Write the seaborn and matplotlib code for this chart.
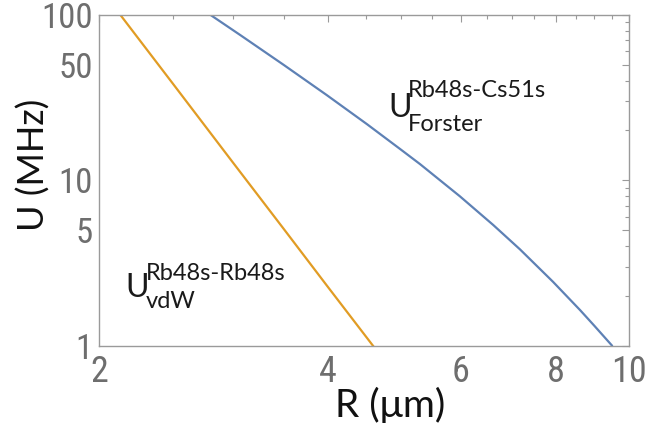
import numpy as np
import pandas as pd
import matplotlib
matplotlib.use("Agg")
import matplotlib.pyplot as plt
import seaborn as sns
from matplotlib.ticker import FixedLocator, NullFormatter

# ---- data ----
r_vdw = [2.13, 2.5, 3.0, 3.5, 4.0, 4.60]
u_vdw = [100.0, 38.3, 12.8, 5.09, 2.28, 0.99]

r_forster = [2.80, 3.07, 3.50, 3.99, 4.51, 5.00, 5.30, 5.98, 6.62, 7.18, 7.94, 8.62, 9.00, 9.50]
u_forster = [100.0, 75.2, 49.8, 32.7, 21.8, 15.3, 12.5, 8.0, 5.36, 3.82, 2.43, 1.64, 1.32, 1.0]

x_major = [2, 4, 6, 8, 10]
x_major_labels = ["2", "4", "6", "8", "10"]
x_minor = [2.5, 3, 3.5, 4.5, 5, 5.5, 6.5, 7, 7.5, 8.5, 9, 9.5]
y_major = [1, 5, 10, 50, 100]
y_major_labels = ["1", "5", "10", "50", "100"]
y_minor = [2, 3, 4, 6, 7, 8, 9, 20, 30, 40, 60, 70, 80, 90]

series_names = ["vdW", "Forster"]
palette = {"vdW": "#E19C24", "Forster": "#5E81B5"}

df = pd.concat([
    pd.DataFrame({"R": r_vdw, "U": u_vdw, "series": series_names[0]}),
    pd.DataFrame({"R": r_forster, "U": u_forster, "series": series_names[1]}),
])

sns.set_style("white")
plt.rcParams["font.family"] = ["Lato", "DejaVu Sans"]

fig = plt.figure(figsize=(6.70, 4.23), dpi=100)
ax = fig.add_axes([0.1485, 0.1827, 0.7903, 0.7825])

sns.lineplot(data=df, x="R", y="U", hue="series", palette=palette,
             linewidth=1.6, legend=False, ax=ax, sort=False, estimator=None)

ax.set_xscale("log")
ax.set_yscale("log")
ax.set_xlim(2, 10)
ax.set_ylim(1, 100)

tick_color = "#6e6e6e"
tick_font = ["Roboto Condensed", "Lato"]
ax.set_xticks(x_major, labels=x_major_labels, fontfamily=tick_font,
              fontsize=26, color=tick_color)
ax.set_yticks(y_major, labels=y_major_labels, fontfamily=tick_font,
              fontsize=25, color=tick_color)
ax.xaxis.set_minor_locator(FixedLocator(x_minor))
ax.xaxis.set_minor_formatter(NullFormatter())
ax.yaxis.set_minor_locator(FixedLocator(y_minor))
ax.yaxis.set_minor_formatter(NullFormatter())

gray = "#9a9a9a"
for s in ax.spines.values():
    s.set_color(gray)
    s.set_linewidth(1.0)

ax.tick_params(which="both", direction="in", top=True, right=True,
               color=gray, width=0.8)
ax.tick_params(which="major", length=5)
ax.tick_params(which="minor", length=3)
ax.tick_params(axis="x", which="major", pad=6)
ax.tick_params(axis="y", which="major", pad=5)

ax.set_xlabel("R (μm)", fontsize=28, color="#111111")
ax.set_ylabel("U (MHz)", fontsize=26, color="#111111")
ax.xaxis.set_label_coords(0.549, -0.18)
ax.xaxis.label.set_va("center")
ax.yaxis.set_label_coords(-0.124, 0.546)
ax.yaxis.label.set_va("center")

tc = "#1a1a1a"
# vdW label
ax.text(0.048, 0.148, "U", transform=ax.transAxes, fontsize=23, color=tc,
        ha="left", va="baseline")
ax.text(0.088, 0.200, "Rb48s-Rb48s", transform=ax.transAxes, fontsize=17,
        color=tc, ha="left", va="baseline")
ax.text(0.088, 0.114, "vdW", transform=ax.transAxes, fontsize=17,
        color=tc, ha="left", va="baseline")
# Forster label
ax.text(0.545, 0.690, "U", transform=ax.transAxes, fontsize=23, color=tc,
        ha="left", va="baseline")
ax.text(0.582, 0.752, "Rb48s-Cs51s", transform=ax.transAxes, fontsize=17,
        color=tc, ha="left", va="baseline")
ax.text(0.582, 0.650, "Forster", transform=ax.transAxes, fontsize=17,
        color=tc, ha="left", va="baseline")

fig.savefig("out.png", dpi=100)
